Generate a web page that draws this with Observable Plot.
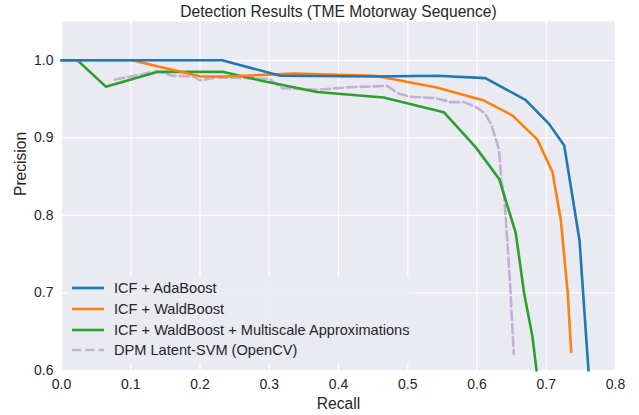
<!DOCTYPE html>
<html>
<head>
<meta charset="utf-8">
<script src="https://cdn.jsdelivr.net/npm/d3@7"></script>
<script src="https://cdn.jsdelivr.net/npm/@observablehq/plot@0.6"></script>
<style>
  html, body { margin: 0; padding: 0; background: #fff; }
  #wrap { position: relative; width: 639px; height: 415px; font-family: "Liberation Sans", Arial, sans-serif; }
  #legend { position: absolute; left: 67px; top: 276px; width: 348px; height: 88px;
    background: rgba(234,234,242,0.85); border-radius: 3px; box-sizing: border-box; }
  .item { position: absolute; left: 5px; height: 20px; display: flex; align-items: center;
    font-size: 14.6px; color: #262626; white-space: nowrap; }
  .item svg { margin-right: 10px; }
</style>
</head>
<body>
<div id="wrap"></div>
<script>
const seriesNames = [
  "ICF + AdaBoost",
  "ICF + WaldBoost",
  "ICF + WaldBoost + Multiscale Approximations",
  "DPM Latent-SVM (OpenCV)"
];
const seriesColors = ["#1f77b4", "#ff7f0e", "#2ca02c", "#c5b0d5"];

const adaRecall    = [0.0, 0.232, 0.316, 0.45, 0.542, 0.612, 0.670, 0.704, 0.726, 0.748, 0.761];
const adaPrecision = [1.0, 1.0,   0.980, 0.979, 0.980, 0.977, 0.949, 0.918, 0.890, 0.768, 0.600];

const waldRecall    = [0.0, 0.102, 0.201, 0.239, 0.335, 0.453, 0.542, 0.610, 0.651, 0.687, 0.709, 0.721, 0.731, 0.736];
const waldPrecision = [1.0, 1.0,   0.979, 0.979, 0.983, 0.980, 0.965, 0.948, 0.929, 0.898, 0.856, 0.794, 0.700, 0.624];

const msRecall    = [0.0, 0.023, 0.064, 0.138, 0.234, 0.287, 0.369, 0.465, 0.552, 0.598, 0.632, 0.656, 0.668, 0.680, 0.686];
const msPrecision = [1.0, 1.0,   0.966, 0.985, 0.985, 0.974, 0.959, 0.952, 0.933, 0.888, 0.847, 0.777, 0.700, 0.644, 0.600];

const dpmRecall    = [0.077, 0.138, 0.160, 0.191, 0.200, 0.225, 0.268, 0.300, 0.319, 0.369, 0.412, 0.470, 0.487, 0.504, 0.542, 0.562, 0.581, 0.598, 0.612, 0.620, 0.627, 0.632, 0.635, 0.639, 0.644, 0.648, 0.653];
const dpmPrecision = [0.975, 0.986, 0.980, 0.979, 0.974, 0.978, 0.977, 0.976, 0.964, 0.962, 0.965, 0.967, 0.957, 0.953, 0.951, 0.946, 0.946, 0.940, 0.931, 0.918, 0.899, 0.884, 0.845, 0.828, 0.764, 0.708, 0.622];

const xTicks = [0.0, 0.1, 0.2, 0.3, 0.4, 0.5, 0.6, 0.7, 0.8];
const yTicks = [0.6, 0.7, 0.8, 0.9, 1.0];

const titleText = "Detection Results (TME Motorway Sequence)";
const xLabel = "Recall";
const yLabel = "Precision";

const toRows = (xs, ys) => xs.map((x, i) => ({x, y: ys[i]}));
const ada = toRows(adaRecall, adaPrecision);
const wald = toRows(waldRecall, waldPrecision);
const ms = toRows(msRecall, msPrecision);
const dpm = toRows(dpmRecall, dpmPrecision);

const font = "'Liberation Sans', Arial, sans-serif";
const txt = "#262626";

const chart = Plot.plot({
  width: 639,
  height: 415,
  marginLeft: 61,
  marginRight: 24,
  marginTop: 21,
  marginBottom: 45,
  style: {fontFamily: font, fontSize: "14px", color: txt, background: "#fff", overflow: "visible"},
  x: {domain: [0, 0.8]},
  y: {domain: [0.6, 1.05]},
  marks: [
    Plot.frame({fill: "#eaeaf2", stroke: null}),
    Plot.gridX(xTicks, {stroke: "#fff", strokeOpacity: 1, strokeWidth: 1.2}),
    Plot.gridY(yTicks, {stroke: "#fff", strokeOpacity: 1, strokeWidth: 1.2}),
    Plot.axisX(xTicks, {tickSize: 0, tickPadding: 9, tickFormat: d3.format(".1f"), label: null, fontSize: 14, fill: txt}),
    Plot.axisY(yTicks, {tickSize: 0, tickPadding: 8, tickFormat: d3.format(".1f"), label: null, fontSize: 14, fill: txt}),
    Plot.line(dpm, {x: "x", y: "y", stroke: seriesColors[3], strokeWidth: 2.6, strokeDasharray: "9.25,4", strokeLinejoin: "round"}),
    Plot.line(ms, {x: "x", y: "y", stroke: seriesColors[2], strokeWidth: 2.6, strokeLinejoin: "round"}),
    Plot.line(wald, {x: "x", y: "y", stroke: seriesColors[1], strokeWidth: 2.6, strokeLinejoin: "round"}),
    Plot.line(ada, {x: "x", y: "y", stroke: seriesColors[0], strokeWidth: 2.6, strokeLinejoin: "round"}),
    Plot.text([titleText], {frameAnchor: "top", dy: -5, fontSize: 15.6, fill: txt, lineAnchor: "bottom"}),
    Plot.text([xLabel], {frameAnchor: "bottom", dy: 38, fontSize: 15.6, fill: txt, lineAnchor: "bottom"}),
    Plot.text([yLabel], {frameAnchor: "left", dx: -36, rotate: -90, fontSize: 15.6, fill: txt, lineAnchor: "bottom"})
  ]
});

const wrap = document.getElementById("wrap");
wrap.appendChild(chart);

const legend = document.createElement("div");
legend.id = "legend";
seriesNames.forEach((name, i) => {
  const item = document.createElement("div");
  item.className = "item";
  item.style.top = (2 + i * 20.8) + "px";
  const dash = i === 3 ? ' stroke-dasharray="9.25,4"' : '';
  item.innerHTML = `<svg width="32" height="6"><line x1="0" y1="3" x2="32" y2="3" stroke="${seriesColors[i]}" stroke-width="2.6"${dash}/></svg><span></span>`;
  item.querySelector("span").textContent = name;
  legend.appendChild(item);
});
wrap.appendChild(legend);
</script>
</body>
</html>
